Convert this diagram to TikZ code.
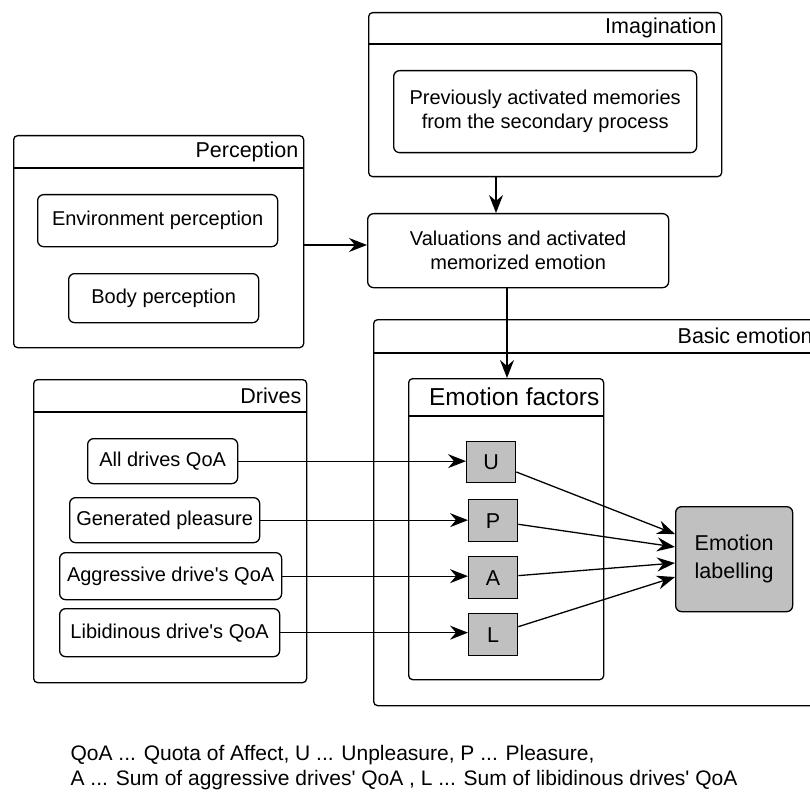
\documentclass[tikz,border=0pt]{standalone}
\usepackage{fontspec}
\setmainfont{Liberation Sans}[Ligatures=TeXOff]
\usetikzlibrary{arrows.meta}
\newcommand\fbody{\fontsize{20}{24}\selectfont}
\newcommand\ftitle{\fontsize{21.5}{25}\selectfont}
\newcommand\fbig{\fontsize{24.5}{28}\selectfont}
\newcommand\fnote{\fontsize{21}{24}\selectfont}
\definecolor{factorgray}{RGB}{192,192,192}
\begin{document}
\begin{tikzpicture}[x=1pt,y=-1pt,
  line width=1.3pt,
  container/.style={draw, rounded corners=4pt, anchor=north west, inner sep=0pt},
  item/.style={draw, rounded corners=6pt, anchor=north west, inner sep=0pt},
  itemtext/.style={font=\fbody, align=center, inner sep=0pt},
  factor/.style={draw, fill=factorgray, anchor=north west, inner sep=0pt, font=\ftitle},
  title/.style={font=\ftitle, inner sep=0pt},
  arr/.style={-{Stealth[length=18pt,width=14pt,inset=6pt]}, line width=1.3pt}
]
\useasboundingbox (0,0) rectangle (810,794);
\clip (0,0) rectangle (810,794);

% Imagination
\node[container, minimum width=353pt, minimum height=164pt] (imag) at (368,12) {};
\draw ([yshift=-32pt]imag.north west) -- ([yshift=-32pt]imag.north east);
\node[title, anchor=east] (imagT) at (717,28) {Imagination};
\node[item, minimum width=303pt, minimum height=82pt] (prev) at (393,70) {};
\node[itemtext] (prevT) at (prev.center) {Previously activated memories\\from the secondary process};

% Perception
\node[container, minimum width=290pt, minimum height=212pt] (perc) at (13,135) {};
\draw ([yshift=-33pt]perc.north west) -- ([yshift=-33pt]perc.north east);
\node[title, anchor=east] (percT) at (299,151.5) {Perception};
\node[item, minimum width=240pt, minimum height=52pt] (env) at (37,194) {};
\node[itemtext] (envT) at (env.center) {Environment perception};
\node[item, minimum width=190pt, minimum height=49pt] (body) at (68,273) {};
\node[itemtext] (bodyT) at (body.center) {Body perception};

% Valuations
\node[item, minimum width=301pt, minimum height=74pt] (val) at (367,213) {};
\node[itemtext] (valT) at (val.center) {Valuations and activated\\memorized emotion};

% Basic emotion
\node[container, minimum width=443pt, minimum height=386pt] (basic) at (373,319) {};
\draw ([yshift=-34pt]basic.north west) -- ([yshift=-34pt]basic.north east);
\node[title, anchor=west] (basicT) at (677,336) {Basic emotion};

% Emotion factors
\node[container, minimum width=195pt, minimum height=301pt] (fac) at (408,378) {};
\draw ([yshift=-38pt]fac.north west) -- ([yshift=-38pt]fac.north east);
\node[font=\fbig, inner sep=0pt, anchor=east] (facT) at (600,397) {Emotion factors};
\node[factor, minimum width=49pt, minimum height=41pt] (U) at (466,441) {U};
\node[factor, minimum width=49pt, minimum height=42pt] (P) at (468,499) {P};
\node[factor, minimum width=49pt, minimum height=42pt] (A) at (468,556) {A};
\node[factor, minimum width=49pt, minimum height=42pt] (L) at (468,613) {L};
\node[draw, fill=factorgray, rounded corners=6pt, anchor=north west, inner sep=0pt,
      minimum width=117pt, minimum height=105pt] (EL) at (675,506) {};
\node[title, align=center, font=\fontsize{21.5}{28}\selectfont] (ELT) at (EL.center) {Emotion\\labelling};

% Drives
\node[container, minimum width=273pt, minimum height=303pt] (drv) at (33,379) {};
\draw ([yshift=-33pt]drv.north west) -- ([yshift=-33pt]drv.north east);
\node[title, anchor=east] (drvT) at (302,395.5) {Drives};
\node[item, minimum width=150pt, minimum height=45pt] (alld) at (87,438) {};
\node[itemtext] (alldT) at (alld.center) {All drives QoA};
\node[item, minimum width=190pt, minimum height=45pt] (gen) at (69,497) {};
\node[itemtext] (genT) at (gen.center) {Generated pleasure};
\node[item, minimum width=222pt, minimum height=47pt] (agg) at (59,552) {};
\node[itemtext] (aggT) at (agg.center) {Aggressive drive's QoA};
\node[item, minimum width=220pt, minimum height=48pt] (lib) at (59,608) {};
\node[itemtext] (libT) at (lib.center) {Libidinous drive's QoA};

% Connectors
\draw[arr] (imag.south -| 496,0) -- (val.north -| 496,0);
\draw[arr] (perc.east |- 0,245) -- (val.west |- 0,245);
\draw[arr] (val.south -| 507,0) -- (fac.north -| 507,0);
\draw[arr] (alld.east) -- (U.west |- alld.east);
\draw[arr] (gen.east) -- (P.west |- gen.east);
\draw[arr] (agg.east) -- (A.west |- agg.east);
\draw[arr] (lib.east) -- (L.west |- lib.east);
\draw[arr] (U) -- (EL.west |- 0,534);
\draw[arr] (P) -- (EL.west |- 0,547);
\draw[arr] (A) -- (EL.west |- 0,563);
\draw[arr] (L) -- (EL.west |- 0,577);

% Legend
\node[font=\fnote, inner sep=0pt, anchor=base west] (note1) at (70,760) {QoA ... Quota of Affect, U ... Unpleasure, P ... Pleasure,};
\node[font=\fnote, inner sep=0pt, anchor=base west] (note2) at (70,785) {A ... Sum of aggressive drives' QoA , L ... Sum of libidinous drives' QoA};
\end{tikzpicture}
\end{document}
